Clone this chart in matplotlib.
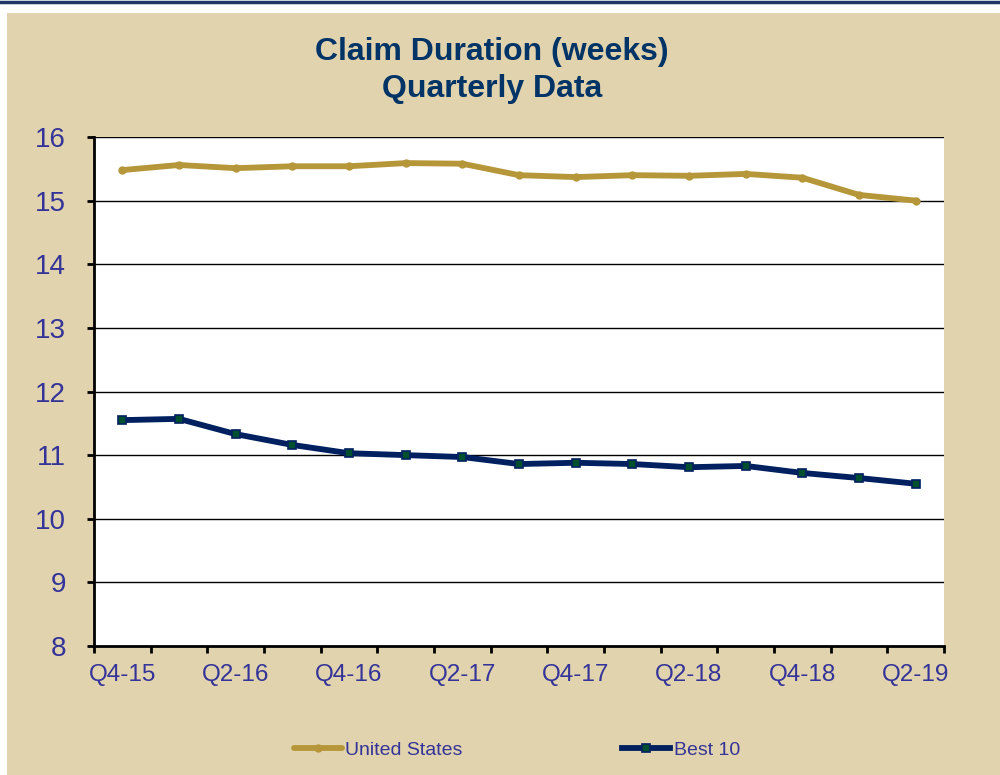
import matplotlib
matplotlib.use('Agg')
from matplotlib import pyplot
from matplotlib.patches import Rectangle
from matplotlib.lines import Line2D
import numpy

quarters = ['Q4-15', 'Q1-16', 'Q2-16', 'Q3-16', 'Q4-16', 'Q1-17', 'Q2-17', 'Q3-17',
            'Q4-17', 'Q1-18', 'Q2-18', 'Q3-18', 'Q4-18', 'Q1-19', 'Q2-19']
united_states = [15.48, 15.56, 15.51, 15.54, 15.54, 15.59, 15.58, 15.40,
                 15.37, 15.40, 15.39, 15.42, 15.36, 15.09, 15.00]
best_10 = [11.55, 11.57, 11.33, 11.16, 11.03, 11.00, 10.97, 10.86,
           10.88, 10.86, 10.81, 10.83, 10.72, 10.64, 10.55]

beige = '#E1D3AD'
gold = '#B5973A'
navy = '#002060'
label_blue = '#333399'
title_blue = '#003366'

pyplot.rcParams['font.family'] = ['Liberation Sans', 'DejaVu Sans']

fig = pyplot.figure(figsize=(10, 7.75), dpi=100)
fig.patch.set_facecolor('white')
# beige panel and dark line at the top
fig.add_artist(Rectangle((0.007, 0), 0.993, 1 - 13 / 775, transform=fig.transFigure,
                         facecolor=beige, edgecolor='none', zorder=-10))
fig.add_artist(Line2D([0, 1], [1 - 1.5 / 775, 1 - 1.5 / 775], transform=fig.transFigure,
                      color='#1F3864', linewidth=2.5))

ax = fig.add_axes([0.094, 1 - 646 / 775, 0.85, (646 - 137) / 775])
ax.set_facecolor('white')

x = numpy.arange(len(quarters))
ax.plot(x, united_states, color=gold, linewidth=4.2, marker='o', markersize=5,
        label='United States', solid_capstyle='round', zorder=3)
ax.plot(x, best_10, color=navy, linewidth=4.2, marker='s', markersize=6,
        markerfacecolor='#005030', markeredgecolor=navy, markeredgewidth=1.2,
        label='Best 10', zorder=3)

ax.set_xlim(-0.5, len(quarters) - 0.5)
ax.set_ylim(8, 16)
ax.set_yticks(range(8, 17))
for v in range(9, 17):
    ax.axhline(v, color='black', linewidth=1, zorder=1)

ax.set_xticks(x[::2])
ax.set_xticklabels(quarters[::2])
ax.set_xticks(numpy.arange(-0.5, len(quarters)), minor=True)
ax.tick_params(axis='x', which='major', length=0, pad=13, labelsize=17.5, labelcolor=label_blue)
ax.tick_params(axis='x', which='minor', length=5, width=2, direction='out')
ax.tick_params(axis='y', length=5, width=2, pad=15, labelsize=20, labelcolor=label_blue)

for side in ['top', 'right']:
    ax.spines[side].set_visible(False)
ax.spines['left'].set_linewidth(2)
ax.spines['bottom'].set_linewidth(2)

fig.text(0.492, 1 - 60 / 775, 'Claim Duration (weeks)', ha='center', va='baseline',
         fontsize=23, fontweight='bold', color=title_blue)
fig.text(0.492, 1 - 97 / 775, 'Quarterly Data', ha='center', va='baseline',
         fontsize=23, fontweight='bold', color=title_blue)

fig.legend(loc='center', bbox_to_anchor=(0.517, 1 - 750 / 775), ncol=2, frameon=False,
           fontsize=14, labelcolor=label_blue, handlelength=2.45, handletextpad=0.2,
           columnspacing=8.2)

fig.savefig('out.png', dpi=100)
